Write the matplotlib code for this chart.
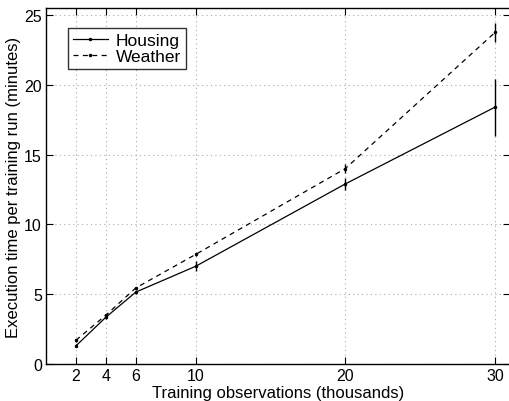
import matplotlib.pyplot as plt
from matplotlib.lines import Line2D

plt.rcParams['font.family'] = ['Liberation Sans', 'DejaVu Sans']

# training observations (thousands)
obs = [2, 4, 6, 10, 20, 30]

# execution time per training run (minutes)
housing = [1.3, 3.35, 5.15, 7.0, 12.9, 18.4]
housing_err = [0.1, 0.15, 0.15, 0.35, 0.45, 2.05]
weather = [1.7, 3.5, 5.45, 7.85, 14.0, 23.75]
weather_err = [0.1, 0.1, 0.1, 0.1, 0.3, 0.7]

fig = plt.figure(figsize=(5.1, 4.02), dpi=100)
ax = fig.add_axes([46 / 510, 37 / 402, 464 / 510, 356 / 402])

ax.plot(obs, housing, color='k', ls='-', lw=0.9, marker='.', ms=3)
ax.errorbar(obs, housing, yerr=housing_err, fmt='none', ecolor='k',
            elinewidth=1.0, capsize=0)
ax.plot(obs, weather, color='k', ls='--', lw=0.9, marker='.', ms=3,
        dashes=(4, 3.5))
ax.errorbar(obs, weather, yerr=weather_err, fmt='none', ecolor='k',
            elinewidth=1.0, capsize=0)

ax.set_xlim(0, 31)
ax.set_ylim(0, 25.5)
ax.set_xticks(obs)
ax.set_yticks([0, 5, 10, 15, 20, 25])
ax.grid(True, ls=(0, (1, 3)), color='#aaaaaa', lw=0.8)
ax.tick_params(direction='in', top=True, right=True, labelsize=11.5,
               length=5, pad=3)
for s in ax.spines.values():
    s.set_linewidth(1.0)

ax.set_xlabel('Training observations (thousands)', fontsize=12, labelpad=1)
ax.set_ylabel('Execution time per training run (minutes)', fontsize=12,
              labelpad=2)

handles = [Line2D([], [], color='k', ls='-', lw=0.9, marker='.', ms=3),
           Line2D([], [], color='k', ls='--', lw=0.9, marker='.', ms=3,
                  dashes=(4, 3.5))]
leg = ax.legend(handles, ['Housing', 'Weather'], loc='upper left',
                bbox_to_anchor=(0.047, 0.945), fontsize=12.5, frameon=True,
                fancybox=False, edgecolor='k', handlelength=2.0,
                borderpad=0.3, labelspacing=0.05, handletextpad=0.45,
                borderaxespad=0)
leg.get_frame().set_linewidth(1.0)

fig.savefig('out.png', dpi=100)
